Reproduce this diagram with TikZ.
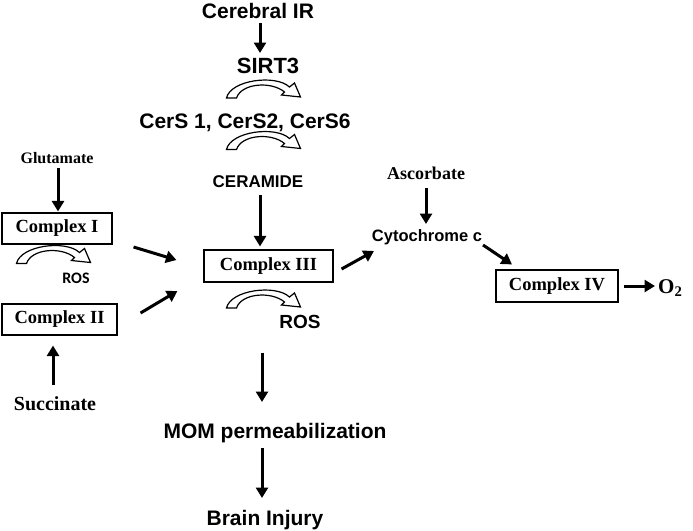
\documentclass[tikz,border=0pt]{standalone}
\usepackage{fontspec}
\setmainfont{Liberation Serif}
\setsansfont{Liberation Sans}
\newfontfamily\carl{Carlito}
\usetikzlibrary{arrows.meta}
\tikzset{
  sb/.style={font=\sffamily\bfseries\fontsize{21}{24}\selectfont, inner sep=0pt, anchor=base},
  sbm/.style={font=\sffamily\bfseries\fontsize{17}{20}\selectfont, inner sep=0pt, anchor=base},
  rb/.style={font=\rmfamily\bfseries\fontsize{#1}{#1}\selectfont, inner sep=0pt, anchor=base},
  cbox/.style={draw, line width=1.1pt, minimum width=#1, minimum height=31pt, inner sep=0pt,
    font=\rmfamily\bfseries\fontsize{18.5}{20}\selectfont},
  arr/.style={line width=3pt, -{Triangle[length=10.5pt,width=12pt]}},
  curv/.pic={
    \draw[line width=1.2pt, fill=white, line join=miter]
      (-37,8) .. controls (-33,-10) and (12,-16) .. (26,-3) -- (31,-7) -- (37,7) -- (18,5)
      -- (21,2) .. controls (8,-9) and (-22,-7) .. (-27,8) -- cycle;
  }
}
\begin{document}
\begin{tikzpicture}[x=1pt, y=-1pt]
\useasboundingbox (0,0) rectangle (693,530);
% text nodes (base anchored)
\node[sb] (cir) at (258,18) {Cerebral IR};
\node[sb, font=\sffamily\bfseries\fontsize{22}{24}\selectfont] (sirt) at (268,73) {SIRT3};
\node[sb] (cers) at (245,128) {CerS 1, CerS2, CerS6};
\node[sbm] (cer) at (258,187) {CERAMIDE};
\node[rb=16] (glu) at (57,163) {Glutamate};
\node[rb=20] (succ) at (55,410) {Succinate};
\node[rb=18] (asc) at (426,179) {Ascorbate};
\node[font=\sffamily\bfseries\fontsize{16.5}{18}\selectfont, inner sep=0pt, anchor=base] (cyt) at (427,241) {Cytochrome c};
\node[font=\carl\bfseries\fontsize{16}{18}\selectfont, inner sep=0pt, anchor=base] (ros1) at (76,283) {ROS};
\node[font=\sffamily\bfseries\fontsize{19}{20}\selectfont, inner sep=0pt, anchor=base] (ros3) at (300,328) {ROS};
\node[sb] (mom) at (275,438) {MOM permeabilization};
\node[sb] (brain) at (265,525) {Brain Injury};
\node[rb=21, anchor=base west] (o2) at (658,293) {O\textsubscript{2}};
% boxes
\node[cbox=110pt] (c1) at (57,228.5) {Complex I};
\node[cbox=115pt] (c2) at (59.5,319.5) {Complex II};
\node[cbox=129pt, minimum height=32pt] (c3) at (268.5,266) {Complex III};
\node[cbox=122pt, minimum height=32pt] (c4) at (557,286) {Complex IV};
% curved hollow arrows
\pic at (263.5,90) {curv};
\pic at (263.5,141.5) {curv};
\pic at (263.5,300) {curv};
\pic at (53.5,255.5) {curv};
% straight arrows
\draw[arr] ([xshift=2pt,yshift=-5pt]cir.base) -- ([xshift=-8pt,yshift=20pt]sirt.base);
\draw[arr] ([xshift=2pt,yshift=-8pt]cer.base) -- ([xshift=-8.5pt,yshift=3pt]c3.north);
\draw[arr] ([xshift=-6.5pt,yshift=-70pt]c3.south) -- ([xshift=-13pt,yshift=36pt]mom.base);
\draw[arr] ([xshift=-13pt,yshift=-10pt]mom.base) -- ([xshift=-3pt,yshift=27pt]brain.base);
\draw[arr] ([xshift=1pt,yshift=-5pt]glu.base) -- ([xshift=1pt,yshift=1pt]c1.north);
\draw[arr] ([xshift=-2pt,yshift=25pt]succ.base) -- ([xshift=-6.5pt,yshift=-10pt]c2.south);
\draw[arr] ([xshift=21pt,yshift=-18.5pt]c1.east) -- ([xshift=-27pt,yshift=6pt]c3.west);
\draw[arr] ([xshift=23pt,yshift=6.5pt]c2.east) -- ([xshift=-26pt,yshift=-25pt]c3.west);
\draw[arr] ([xshift=8pt,yshift=-3pt]c3.east) -- ([xshift=-53pt,yshift=-10pt]cyt.base);
\draw[arr] ([yshift=-9pt]asc.base) -- ([xshift=-1pt,yshift=17pt]cyt.base);
\draw[arr] ([xshift=56pt,yshift=-4pt]cyt.base) -- ([xshift=-45pt,yshift=5pt]c4.north);
\draw[arr] ([xshift=5pt]c4.east) -- ([xshift=-3pt,yshift=7pt]o2.base west);
\end{tikzpicture}
\end{document}
